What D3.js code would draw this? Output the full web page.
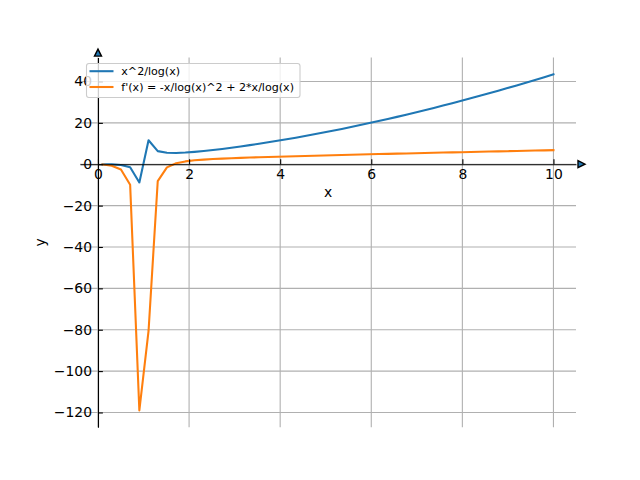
<!DOCTYPE html>
<html>
<head>
<meta charset="utf-8">
<script src="https://cdn.jsdelivr.net/npm/d3@7"></script>
<style>
  html, body { margin: 0; padding: 0; background: #fff; }
  svg { display: block; font-family: "DejaVu Sans", sans-serif; }
</style>
</head>
<body>
<svg id="chart" width="640" height="480"></svg>
<script>
// ---- data ----
const xValues = [
  0.100, 0.302, 0.504, 0.706, 0.908, 1.110, 1.312, 1.514, 1.716, 1.918,
  2.120, 2.322, 2.524, 2.727, 2.929, 3.131, 3.333, 3.535, 3.737, 3.939,
  4.141, 4.343, 4.545, 4.747, 4.949, 5.151, 5.353, 5.555, 5.757, 5.959,
  6.161, 6.363, 6.565, 6.767, 6.969, 7.171, 7.373, 7.576, 7.778, 7.980,
  8.182, 8.384, 8.586, 8.788, 8.990, 9.192, 9.394, 9.596, 9.798, 10.000
];
const fValues = [
  -0.00, -0.08, -0.37, -1.43, -8.8, 11.6, 6.34, 5.53, 5.45, 5.65,
  5.98, 6.40, 6.88, 7.41, 7.98, 8.59, 9.23, 9.90, 10.59, 11.32,
  12.07, 12.84, 13.64, 14.47, 15.32, 16.19, 17.08, 18.00, 18.94, 19.90,
  20.88, 21.88, 22.90, 23.95, 25.02, 26.10, 27.21, 28.34, 29.49, 30.66,
  31.85, 33.06, 34.29, 35.53, 36.80, 38.09, 39.40, 40.72, 42.07, 43.43
];
const dfValues = [
  -0.11, -0.72, -2.55, -9.88, -119.0, -80.6, -8.13, -1.50, 0.47, 1.37,
  1.89, 2.24, 2.51, 2.73, 2.92, 3.08, 3.24, 3.38, 3.52, 3.65,
  3.78, 3.90, 4.02, 4.14, 4.25, 4.37, 4.48, 4.59, 4.70, 4.81,
  4.91, 5.02, 5.12, 5.23, 5.33, 5.43, 5.53, 5.64, 5.74, 5.83,
  5.93, 6.03, 6.13, 6.23, 6.32, 6.42, 6.52, 6.61, 6.71, 6.80
];
const seriesLabels = ["x^2/log(x)", "f'(x) = -x/log(x)^2 + 2*x/log(x)"];
const seriesColors = ["#1f77b4", "#ff7f0e"];
const xTickValues = [0, 2, 4, 6, 8, 10];
const yTickValues = [-120, -100, -80, -60, -40, -20, 0, 20, 40];

// ---- layout ----
const padL = 80, padR = 576, padT = 57.6, padB = 427.2;

const svg = d3.select("#chart");

// matplotlib-like 5% margins
const xExt = d3.extent(xValues);
const yExt = d3.extent(fValues.concat(dfValues));
const xm = (xExt[1] - xExt[0]) * 0.05;
const ym = (yExt[1] - yExt[0]) * 0.05;

const x = d3.scaleLinear().domain([xExt[0] - xm, xExt[1] + xm]).range([padL, padR]);
const y = d3.scaleLinear().domain([yExt[0] - ym, yExt[1] + ym]).range([padB, padT]);

const x0 = x(0), y0 = y(0);

// ---- grid ----
const grid = svg.append("g").attr("stroke", "#b0b0b0").attr("stroke-width", 1.1);
grid.selectAll("line.v").data(xTickValues).join("line").attr("class", "v")
  .attr("x1", d => x(d)).attr("x2", d => x(d))
  .attr("y1", padT).attr("y2", padB);
grid.selectAll("line.h").data(yTickValues).join("line").attr("class", "h")
  .attr("x1", padL).attr("x2", padR)
  .attr("y1", d => y(d)).attr("y2", d => y(d));

// ---- lines ----
const series = [fValues, dfValues];
const lineGen = d3.line().x((d, i) => x(xValues[i])).y(d => y(d));
series.forEach((vals, k) => {
  svg.append("path")
    .datum(vals)
    .attr("d", lineGen)
    .attr("fill", "none")
    .attr("stroke", seriesColors[k])
    .attr("stroke-width", 2.08)
    .attr("stroke-linejoin", "round")
    .attr("stroke-linecap", "square");
});

// ---- axes (spines at zero) ----
const fmt = d3.format("d");
const xAxis = d3.axisBottom(x).tickValues(xTickValues).tickFormat(fmt)
  .tickSizeInner(-4.9).tickSizeOuter(0).tickPadding(4.5);
const yAxis = d3.axisLeft(y).tickValues(yTickValues).tickFormat(fmt)
  .tickSizeInner(-4.9).tickSizeOuter(0).tickPadding(6);

const gx = svg.append("g").attr("transform", `translate(0,${y0})`).call(xAxis);
const gy = svg.append("g").attr("transform", `translate(${x0},0)`).call(yAxis);
[gx, gy].forEach(g => {
  g.attr("font-family", "DejaVu Sans").attr("font-size", 13.9);
  g.selectAll("text").attr("fill", "#000");
  g.selectAll("line").attr("stroke", "#000").attr("stroke-width", 1.1);
  g.select(".domain").attr("stroke", "#000").attr("stroke-width", 1.1);
});

// arrows at spine ends
svg.append("path")
  .attr("d", `M${padR + 2},${y0 - 3.5} L${padR + 9},${y0} L${padR + 2},${y0 + 3.5} Z`)
  .attr("fill", "#1f77b4").attr("stroke", "#000").attr("stroke-width", 1.4).attr("stroke-linejoin", "miter");
svg.append("path")
  .attr("d", `M${x0 - 3.5},${padT - 1.5} L${x0},${padT - 8.5} L${x0 + 3.5},${padT - 1.5} Z`)
  .attr("fill", "#1f77b4").attr("stroke", "#000").attr("stroke-width", 1.4).attr("stroke-linejoin", "miter");

// axis labels
svg.append("text").attr("x", (padL + padR) / 2).attr("y", 196.5)
  .attr("text-anchor", "middle").attr("font-size", 13.9).text("x");
svg.append("text").attr("transform", `translate(45,${(padT + padB) / 2}) rotate(-90)`)
  .attr("text-anchor", "middle").attr("font-size", 13.9).text("y");

// ---- legend ----
const lg = svg.append("g");
lg.append("rect")
  .attr("x", 86.5).attr("y", 63.5).attr("width", 213.5).attr("height", 34)
  .attr("rx", 2.5).attr("ry", 2.5)
  .attr("fill", "#fff").attr("fill-opacity", 0.8)
  .attr("stroke", "#cccccc").attr("stroke-width", 1.1);
seriesLabels.forEach((lab, k) => {
  const ly = 71.2 + k * 15.8;
  lg.append("line").attr("x1", 89.5).attr("x2", 113.5).attr("y1", ly).attr("y2", ly)
    .attr("stroke", seriesColors[k]).attr("stroke-width", 2.08);
  lg.append("text").attr("x", 121.3).attr("y", ly + 4)
    .attr("font-size", 11.1).attr("fill", "#000").text(lab);
});
</script>
</body>
</html>
